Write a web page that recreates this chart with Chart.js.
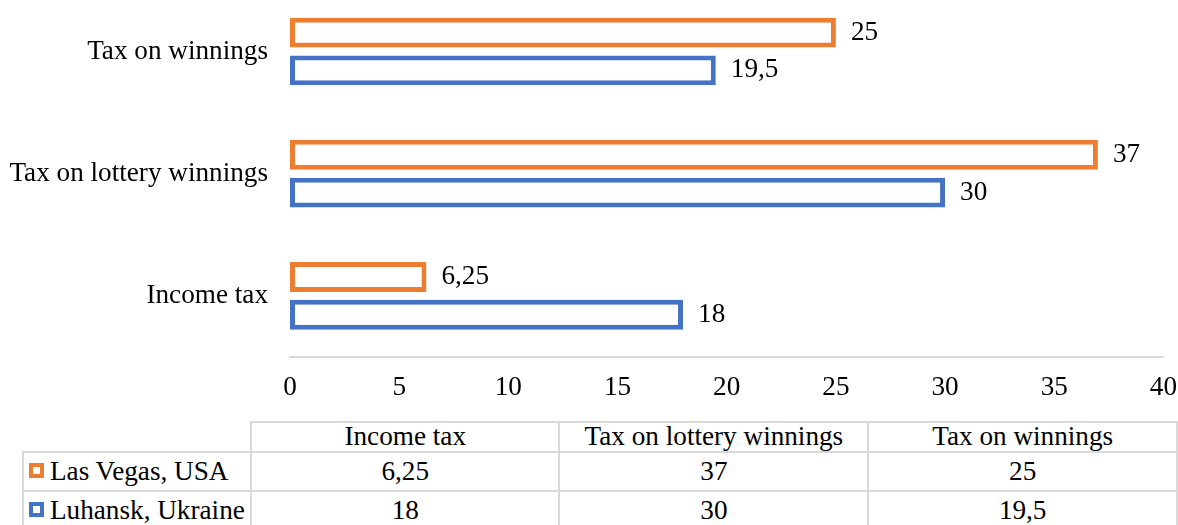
<!DOCTYPE html>
<html lang="en">

<head>
    <meta charset="UTF-8">
    <title>Taxes: Las Vegas vs Luhansk</title>
    <script src="https://cdn.jsdelivr.net/npm/chart.js"></script>
    <style>
        body {
            margin: 0;
            background: #fff;
            width: 1178px;
            height: 525px;
            overflow: hidden;
            position: relative;
            font-family: 'Liberation Serif', 'Times New Roman', serif;
            color: #000;
        }

        .grafico {
            position: absolute;
            left: 0;
            top: -48px;
            width: 1192px;
            height: 455px;
        }

        .tabela {
            position: absolute;
            left: 22px;
            top: 421px;
            border-collapse: collapse;
            font-size: 27.2px;
            table-layout: fixed;
        }

        .tabela td {
            border: 2px solid #d9d9d9;
            padding: 0;
            text-align: center;
            white-space: nowrap;
            line-height: 1;
        }

        .tabela tr.cab td {
            height: 28px;
        }

        .tabela tr.linha td {
            height: 37px;
        }

        .tabela td.vazio {
            border-top: none;
            border-left: none;
        }

        .tabela td.serie {
            text-align: left;
            padding-left: 5px;
        }

        .chave {
            display: inline-block;
            width: 7px;
            height: 7px;
            border: 4px solid;
            background: #fff;
            margin-right: 6px;
            vertical-align: 2px;
        }
    </style>
</head>

<body>

    <div class="grafico">
        <canvas id="myChartCanvas1"></canvas>
    </div>

    <table class="tabela" id="tabelaDados"></table>

    <script>
        // dados (ordem da tabela, de baixo para cima no grafico)
        const categorias = ['Income tax', 'Tax on lottery winnings', 'Tax on winnings'];
        const lasVegas = [6.25, 37, 25];
        const luhansk = [18, 30, 19.5];
        const series = ['Las Vegas, USA', 'Luhansk, Ukraine'];
        const cores = ['#ED7D31', '#4472C4'];
        const ticksX = [0, 5, 10, 15, 20, 25, 30, 35, 40];

        const fonte = "'Liberation Serif', 'Times New Roman', serif";

        function virgula(v) {
            return String(v).replace('.', ',');
        }

        // rotulos de valor no fim das barras
        const rotulos = {
            id: 'rotulos',
            afterDatasetsDraw(chart) {
                const ctx = chart.ctx;
                ctx.save();
                ctx.font = `27.2px ${fonte}`;
                ctx.fillStyle = '#000';
                ctx.textAlign = 'left';
                ctx.textBaseline = 'middle';
                chart.data.datasets.forEach(function (ds, i) {
                    chart.getDatasetMeta(i).data.forEach(function (barra, j) {
                        ctx.fillText(virgula(ds.data[j]), barra.x + 15, barra.y);
                    });
                });
                ctx.restore();
            }
        };

        // no grafico horizontal a primeira categoria fica em cima, entao inverte
        const dados = {
            labels: categorias.slice().reverse(),
            datasets: [{
                label: series[0],
                data: lasVegas.slice().reverse(),
                backgroundColor: '#fff',
                borderColor: cores[0],
                borderWidth: 5,
                borderSkipped: false,
                categoryPercentage: 0.618,
                barPercentage: 0.79
            }, {
                label: series[1],
                data: luhansk.slice().reverse(),
                backgroundColor: '#fff',
                borderColor: cores[1],
                borderWidth: 5,
                borderSkipped: false,
                categoryPercentage: 0.618,
                barPercentage: 0.79
            }]
        };

        const config = {
            type: 'bar',
            data: dados,
            options: {
                indexAxis: 'y',
                responsive: true,
                maintainAspectRatio: false,
                animation: false,
                layout: { padding: { left: 0, right: 1, top: 0, bottom: 0 } },
                plugins: {
                    legend: { display: false },
                    tooltip: { enabled: false }
                },
                scales: {
                    x: {
                        min: 0,
                        max: 40,
                        afterBuildTicks(scale) {
                            scale.ticks = ticksX.map(v => ({ value: v }));
                        },
                        afterFit(scale) {
                            scale.height = 50;
                        },
                        grid: { display: false, drawTicks: false },
                        border: { display: true, color: '#d9d9d9', width: 2 },
                        ticks: {
                            padding: 15,
                            color: '#000',
                            maxRotation: 0,
                            font: { family: fonte, size: 27.2 }
                        }
                    },
                    y: {
                        afterFit(scale) {
                            scale.width = 290;
                        },
                        grid: { display: false, drawTicks: false },
                        border: { display: false },
                        ticks: {
                            padding: 22,
                            color: '#000',
                            font: { family: fonte, size: 27.2 }
                        }
                    }
                }
            },
            plugins: [rotulos]
        };

        let myChart = new Chart(document.getElementById('myChartCanvas1'), config);
        console.log('area do grafico:', myChart.chartArea);

        // tabela de dados embaixo do grafico
        function montarTabela() {
            let tabela = document.getElementById('tabelaDados');
            let html = '<colgroup><col style="width:228px">';
            for (let i = 0; i < categorias.length; i++) {
                html += '<col style="width:309px">';
            }
            html += '</colgroup><tr class="cab"><td class="vazio"></td>';
            categorias.forEach(c => { html += `<td>${c}</td>`; });
            html += '</tr>';
            [lasVegas, luhansk].forEach(function (valores, s) {
                html += `<tr class="linha"><td class="serie"><span class="chave" style="border-color:${cores[s]}"></span>${series[s]}</td>`;
                valores.forEach(v => { html += `<td>${virgula(v)}</td>`; });
                html += '</tr>';
            });
            tabela.innerHTML = html;
        }

        montarTabela();
    </script>

</body>

</html>
